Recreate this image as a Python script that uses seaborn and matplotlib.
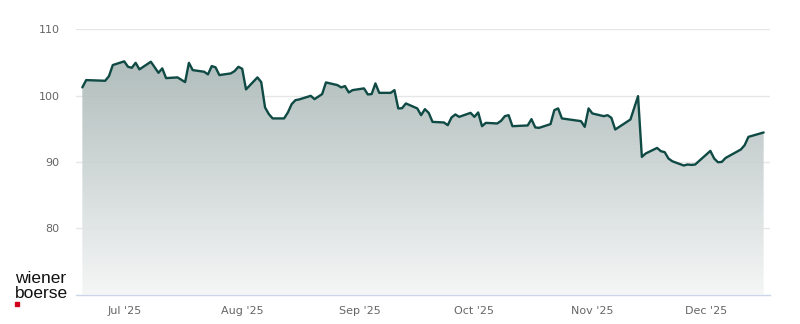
import matplotlib
matplotlib.use("Agg")
import matplotlib.pyplot as plt
import matplotlib.dates as mdates
from matplotlib.colors import LinearSegmentedColormap
from matplotlib.patches import Rectangle
import numpy as np
import pandas as pd
import seaborn as sns

# ---- data ----
dates = [
    "2025-06-20", "2025-06-21", "2025-06-26", "2025-06-27", "2025-06-28",
    "2025-07-01", "2025-07-02", "2025-07-03", "2025-07-04", "2025-07-05",
    "2025-07-08", "2025-07-10", "2025-07-11", "2025-07-12", "2025-07-15",
    "2025-07-17", "2025-07-18", "2025-07-19", "2025-07-22", "2025-07-23",
    "2025-07-24", "2025-07-25", "2025-07-26", "2025-07-29", "2025-07-30",
    "2025-07-31", "2025-08-01", "2025-08-02", "2025-08-05", "2025-08-06",
    "2025-08-07", "2025-08-08", "2025-08-09", "2025-08-12", "2025-08-13",
    "2025-08-14", "2025-08-15", "2025-08-16", "2025-08-19", "2025-08-20",
    "2025-08-22", "2025-08-23", "2025-08-26", "2025-08-27", "2025-08-28",
    "2025-08-29", "2025-08-30", "2025-09-02", "2025-09-03", "2025-09-04",
    "2025-09-05", "2025-09-06", "2025-09-09", "2025-09-10", "2025-09-11",
    "2025-09-12", "2025-09-13", "2025-09-16", "2025-09-17", "2025-09-18",
    "2025-09-19", "2025-09-20", "2025-09-23", "2025-09-24", "2025-09-25",
    "2025-09-26", "2025-09-27", "2025-09-30", "2025-10-01", "2025-10-02",
    "2025-10-03", "2025-10-04", "2025-10-07", "2025-10-08", "2025-10-09",
    "2025-10-10", "2025-10-11", "2025-10-15", "2025-10-16", "2025-10-17",
    "2025-10-18", "2025-10-21", "2025-10-22", "2025-10-23", "2025-10-24",
    "2025-10-29", "2025-10-30", "2025-10-31", "2025-11-01", "2025-11-04",
    "2025-11-05", "2025-11-06", "2025-11-07", "2025-11-11", "2025-11-13",
    "2025-11-14", "2025-11-15", "2025-11-18", "2025-11-19", "2025-11-20",
    "2025-11-21", "2025-11-22", "2025-11-25", "2025-11-26", "2025-11-27",
    "2025-11-28", "2025-12-02", "2025-12-03", "2025-12-04", "2025-12-05",
    "2025-12-06", "2025-12-10", "2025-12-11", "2025-12-12", "2025-12-16",
]
values = [
    101.24, 102.34, 102.24, 102.95, 104.61,
    105.17, 104.35, 104.20, 104.95, 103.96,
    105.11, 103.44, 104.11, 102.64, 102.75,
    102.04, 104.95, 103.85, 103.60, 103.20,
    104.46, 104.26, 103.10, 103.35, 103.70,
    104.35, 104.05, 100.94, 102.75, 102.04,
    98.22, 97.21, 96.56, 96.56, 97.46,
    98.72, 99.32, 99.43, 99.97, 99.47,
    100.23, 101.99, 101.59, 101.24, 101.44,
    100.48, 100.83, 101.09, 100.18, 100.23,
    101.84, 100.42, 100.42, 100.83, 98.07,
    98.10, 98.82, 98.07, 97.05, 97.96,
    97.40, 96.04, 95.95, 95.54, 96.71,
    97.16, 96.80, 97.40, 96.80, 97.46,
    95.39, 95.89, 95.80, 96.19, 96.90,
    97.05, 95.39, 95.50, 96.45, 95.20,
    95.14, 95.70, 97.81, 98.07, 96.56,
    96.15, 95.29, 98.07, 97.31, 96.90,
    97.05, 96.65, 94.89, 96.40, 99.92,
    90.76, 91.27, 92.11, 91.62, 91.47,
    90.51, 90.10, 89.46, 89.61, 89.55,
    89.61, 91.66, 90.51, 89.95, 90.00,
    90.60, 91.87, 92.52, 93.78, 94.44,
]
y_ticks = [80, 90, 100, 110]
x_tick_dates = ["2025-07-01", "2025-08-01", "2025-09-01",
                "2025-10-01", "2025-11-01", "2025-12-01"]
x_tick_labels = ["Jul '25", "Aug '25", "Sep '25", "Oct '25", "Nov '25", "Dec '25"]
x_range = ["2025-06-18 08:00", "2025-12-17 16:00"]
y_range = [70, 110]

df = pd.DataFrame({"date": pd.to_datetime(dates), "price": values})

sns.set_style("white")
plt.rcParams["font.family"] = ["DejaVu Sans"]

fig = plt.figure(figsize=(8, 3.24), dpi=100)
ax = fig.add_axes([0.095, 0.091, 0.8675, 0.8185])

# grid below everything
ax.set_yticks(y_ticks)
ax.yaxis.grid(True, color="#e6e6e6", lw=1.0, zorder=0)
ax.xaxis.grid(False)
ax.set_axisbelow(True)

# gradient area fill
poly = ax.fill_between(df["date"], df["price"], y_range[0], color="none", lw=0)
xn = mdates.date2num(df["date"])
grad = np.linspace(1, 0, 256).reshape(-1, 1)
cmap = LinearSegmentedColormap.from_list("g", ["#f5f6f6", "#a1b1af"])
im = ax.imshow(grad, cmap=cmap, aspect="auto",
               extent=[xn[0], xn[-1], y_range[0], y_range[1]],
               origin="upper", zorder=1, alpha=0.93, interpolation="bicubic")
im.set_clip_path(poly.get_paths()[0], transform=ax.transData)

sns.lineplot(data=df, x="date", y="price", color="#0f4a45", lw=1.7,
             ax=ax, zorder=3)

ax.set_xlim(pd.to_datetime(x_range[0]), pd.to_datetime(x_range[1]))
ax.set_ylim(*y_range)
ax.set_xlabel("")
ax.set_ylabel("")

ax.set_xticks(pd.to_datetime(x_tick_dates))
ax.set_xticklabels(x_tick_labels)
ax.set_yticklabels([str(v) for v in y_ticks])

for s in ["top", "right", "left"]:
    ax.spines[s].set_visible(False)
ax.spines["bottom"].set_color("#ccd6eb")
ax.spines["bottom"].set_linewidth(1.0)

ax.tick_params(axis="x", colors="#ccd6eb", length=6.5, width=1.0,
               direction="out", pad=2, labelcolor="#666666", labelsize=8)
ax.tick_params(axis="y", length=0, pad=12, labelcolor="#666666", labelsize=8)

# logo
fig.text(15 / 800, 1 - 283 / 324, "wiener", fontsize=12.5, color="#111111",
         family=["Liberation Sans", "DejaVu Sans"], va="baseline", ha="left")
fig.text(15 / 800, 1 - 297.5 / 324, "boerse", fontsize=12.5, color="#111111",
         family=["Liberation Sans", "DejaVu Sans"], va="baseline", ha="left")
fig.patches.append(Rectangle((15 / 800, 1 - 305.7 / 324), 4.3 / 800, 3.7 / 324,
                             transform=fig.transFigure, color="#d0021b",
                             figure=fig))

fig.savefig("out.png", dpi=100)
